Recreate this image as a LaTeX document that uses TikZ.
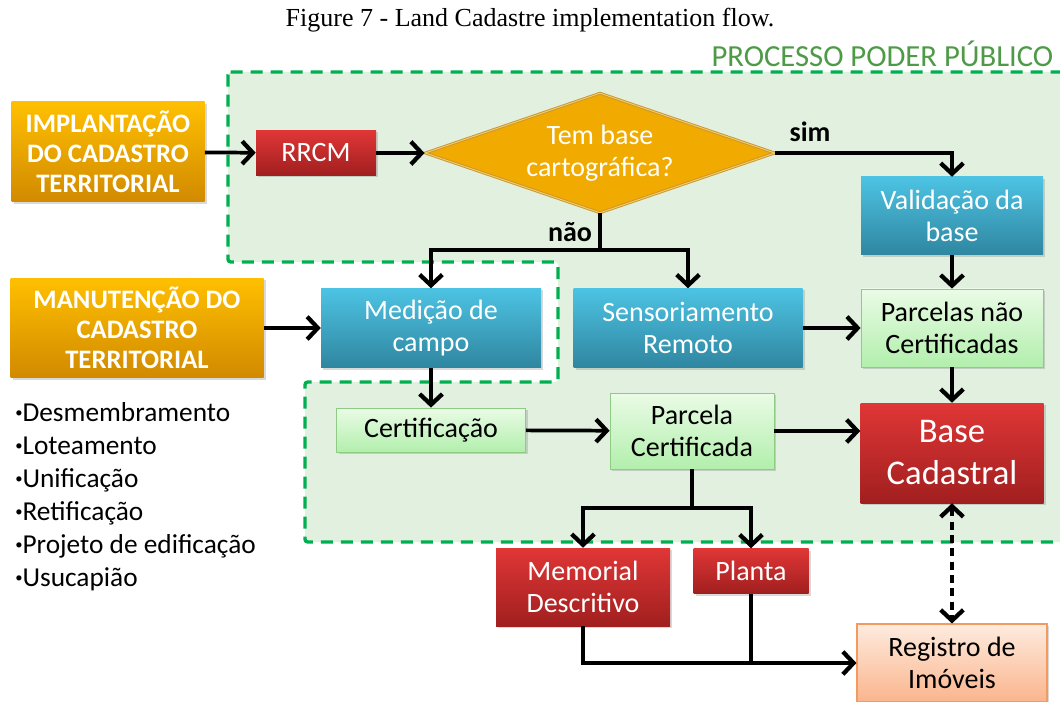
\documentclass[tikz,border=0pt]{standalone}
\usepackage{fontspec}
\setmainfont{Carlito}
\newfontfamily\capfont{Liberation Serif}
\usetikzlibrary{arrows.meta,shadows,shapes.geometric}
\definecolor{orgT}{HTML}{FFBF00}
\definecolor{orgB}{HTML}{D18A00}
\definecolor{redT}{HTML}{E03636}
\definecolor{redB}{HTML}{A11F1F}
\definecolor{bluT}{HTML}{4DC3E3}
\definecolor{bluB}{HTML}{2F86A0}
\definecolor{grnT}{HTML}{EAFBE6}
\definecolor{grnB}{HTML}{B2EFAC}
\definecolor{grnD}{HTML}{8FCB84}
\definecolor{pchT}{HTML}{FEEBDF}
\definecolor{pchB}{HTML}{FAB58C}
\definecolor{pchD}{HTML}{F39A5E}
\definecolor{dmdF}{HTML}{F0AA00}
\definecolor{dmdD}{HTML}{C9962F}
\definecolor{regF}{HTML}{E1F0DF}
\definecolor{dashG}{HTML}{00B050}
\definecolor{txtG}{HTML}{4E9A47}
\begin{document}
\begin{tikzpicture}[x=0.75pt,y=-0.75pt,
 box/.style 2 args={inner sep=0pt,align=center,minimum width=#1*0.75pt,minimum height=#2*0.75pt,
   drop shadow={opacity=0.3,shadow xshift=1.5pt,shadow yshift=-1.5pt},font=\fontsize{21}{24}\selectfont},
 orgbox/.style={top color=orgT,bottom color=orgB,text=white,font=\bfseries\fontsize{20}{22.5}\selectfont},
 redbox/.style={top color=redT,bottom color=redB,text=white},
 blubox/.style={top color=bluT,bottom color=bluB,text=white},
 grnbox/.style={top color=grnT,bottom color=grnB,draw=grnD,line width=0.6pt},
 pchbox/.style={top color=pchT,bottom color=pchB,draw=pchD,line width=0.8pt},
 tip/.tip={Straight Barb[length=8pt,width=17pt,line width=3.2pt]},
 flow/.style={line width=2.8pt,-tip},
 link/.style={line width=2.8pt},
 lbl/.style={font=\bfseries\fontsize{21}{24}\selectfont}]
 \useasboundingbox (0,0) rectangle (1060,702);
 % region of the public process (right edge runs off the page)
 \filldraw[fill=regF,draw=dashG,line width=2.5pt,dash pattern=on 9pt off 6pt,rounded corners=2pt]
   (228,72) -- (1068,72) -- (1068,542) -- (305,542) -- (305,382) -- (558,382)
   -- (558,262) -- (228,262) -- cycle;
 \node[font=\capfont\fontsize{19.5}{22}\selectfont] (fig) at (530,20) {Figure 7 - Land Cadastre implementation flow.};
 \node[anchor=base east,text=txtG,font=\fontsize{23}{26}\selectfont] (proc) at (1058,67) {PROCESSO PODER PÚBLICO};

 % boxes
 \node[box={193}{100},orgbox] (impl) at (108,152) {IMPLANTAÇÃO\\DO CADASTRO\\TERRITORIAL};
 \node[box={253}{99},orgbox] (manut) at (137,328) {MANUTENÇÃO DO\\CADASTRO\\TERRITORIAL};
 \node[box={120}{45},redbox] (rrcm) at (316,153) {RRCM};
 \node[diamond,aspect=2.9,inner sep=0pt,minimum width=350*0.75pt,minimum height=120*0.75pt,fill=dmdF,
   draw=dmdD,line width=0.7pt,double=dmdF!60!white,double distance=0.7pt,text=white,align=center,
   font=\fontsize{21}{24}\selectfont] (dmd) at (600,153) {Tem base\\cartográfica?};
 \node[box={182}{78},blubox] (valid) at (952,216) {Validação da\\base};
 \node[box={220}{79},blubox] (medicao) at (431,328) {Medição de\\campo};
 \node[box={229}{79},blubox] (sensor) at (688,328) {Sensoriamento\\Remoto};
 \node[box={182}{78},grnbox] (parcnao) at (952,328) {Parcelas não\\Certificadas};
 \node[box={189}{44},grnbox] (certif) at (431,430) {Certificação};
 \node[box={164}{76},grnbox] (parcert) at (692,431) {Parcela\\Certificada};
 \node[box={183}{100},redbox,font=\fontsize{26}{31.5}\selectfont] (base) at (952,453) {Base\\Cadastral};
 \node[box={174}{78},redbox] (memorial) at (583,587) {Memorial\\Descritivo};
 \node[box={115}{45},redbox] (planta) at (751,571) {Planta};
 \node[box={190}{78},pchbox] (registro) at (952,663) {Registro de\\Imóveis};

 % list of maintenance cases
 \foreach \t [count=\i] in {Desmembramento,Loteamento,Unificação,Retificação,Projeto de edificação,Usucapião}
   \node[anchor=base west,inner sep=0pt,font=\fontsize{20.5}{25}\selectfont] (it\i) at (15,388+33*\i)
     {\raisebox{2.5pt}{\fontsize{11}{11}\selectfont•}\t};

 % connectors
 \coordinate (nao) at (600,250);
 \coordinate (split) at (692,508);
 \draw[flow] (impl) -- (rrcm);
 \draw[flow] (rrcm) -- (dmd);
 \draw[flow] (dmd.east) -| (valid);
 \draw[link] (dmd.south) -- (nao);
 \draw[flow] (nao) -| (medicao);
 \draw[flow] (nao) -| (sensor);
 \node[lbl] (sim) at (810,132) {sim};
 \node[lbl] (naolbl) at (570,232) {não};
 \draw[flow] (valid) -- (parcnao);
 \draw[flow] (manut) -- (medicao);
 \draw[flow] (sensor) -- (parcnao);
 \draw[flow] (parcnao) -- (base);
 \draw[flow] (medicao) -- (certif);
 \draw[flow] (certif) -- (parcert);
 \draw[flow] (parcert.east) -- (parcert.east -| base.west);
 \draw[link] (parcert) -- (split);
 \draw[flow] (split) -| (memorial);
 \draw[flow] (split) -| (planta);
 \draw[flow] (memorial.south) |- (registro.west);
 \draw[link] (planta.south) -- (planta.south |- registro.west);
 \draw[line width=2.8pt,dash pattern=on 6pt off 4pt,tip-tip] (base) -- (registro);
\end{tikzpicture}
\end{document}
